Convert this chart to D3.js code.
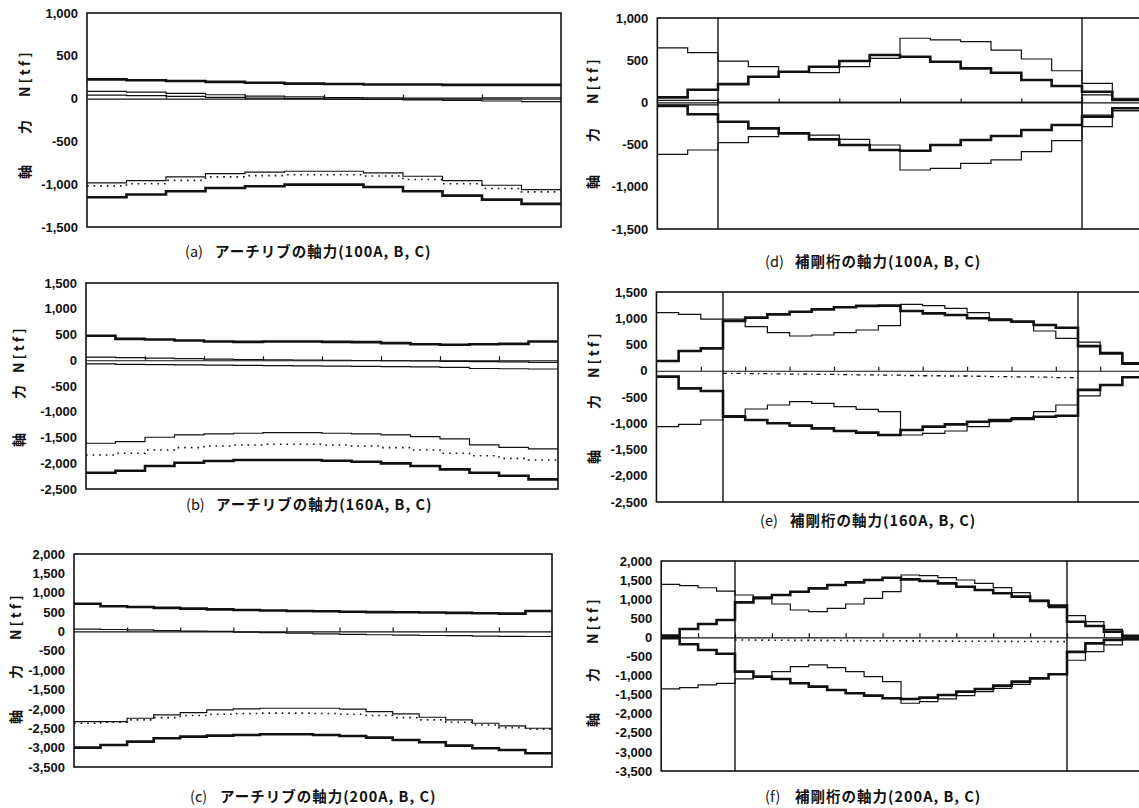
<!DOCTYPE html>
<html>
<head>
<meta charset="utf-8">
<script src="https://cdn.jsdelivr.net/npm/d3@7/dist/d3.min.js"></script>
<style>
  body { margin: 0; background: #fff; }
  text { fill: #111; }
</style>
</head>
<body>
<script>
// ARCH RIB 100 (12 segments)
const a100Top = [225, 215, 205, 195, 185, 175, 170, 165, 165, 160, 160, 160];
const a100NearA = [85, 75, 60, 45, 30, 20, 12, 8, 5, 5, 8, 10];
const a100NearB = [40, 35, 25, 15, 5, 0, -5, -10, -15, -20, -28, -35];
const a100LowThin = [-985, -958, -915, -876, -860, -849, -849, -868, -907, -958, -1012, -1063];
const a100LowDot = [-1020, -995, -955, -915, -900, -890, -890, -905, -945, -995, -1050, -1090];
const a100LowThick = [-1153, -1121, -1082, -1044, -1024, -1005, -1005, -1032, -1082, -1133, -1180, -1230];

// ARCH RIB 160 (16 segments)
const b160Top = [475, 416, 403, 384, 364, 357, 364, 364, 357, 351, 332, 312, 300, 312, 318, 364];
const b160NearA = [60, 50, 40, 30, 20, 15, 10, 5, 0, -5, -10, -15, -20, -25, -30, -40];
const b160NearB = [-70, -80, -85, -90, -95, -100, -105, -110, -115, -120, -125, -130, -140, -160, -165, -170];
const b160LowThin = [-1612, -1580, -1495, -1450, -1430, -1417, -1404, -1404, -1417, -1430, -1450, -1482, -1528, -1645, -1690, -1722];
const b160LowDot = [-1840, -1807, -1742, -1697, -1664, -1645, -1632, -1632, -1645, -1664, -1697, -1742, -1807, -1853, -1905, -1937];
const b160LowThick = [-2184, -2145, -2054, -1989, -1957, -1937, -1937, -1937, -1950, -1970, -2002, -2054, -2119, -2184, -2243, -2314];

// ARCH RIB 200 (18 segments)
const c200Top = [715, 650, 630, 610, 590, 570, 555, 540, 530, 520, 510, 500, 495, 490, 480, 470, 460, 530];
const c200Near = [60, 50, 40, 25, 10, 0, -15, -30, -45, -60, -75, -85, -95, -105, -110, -120, -125, -130];
const c200LowThin = [-2327, -2327, -2241, -2155, -2095, -2026, -2000, -1983, -1983, -1983, -2008, -2069, -2129, -2215, -2284, -2370, -2440, -2500];
const c200LowDot = [-2370, -2345, -2284, -2224, -2172, -2138, -2120, -2110, -2110, -2120, -2138, -2172, -2224, -2284, -2345, -2414, -2483, -2526];
const c200LowThick = [-3000, -2931, -2845, -2758, -2715, -2690, -2672, -2655, -2655, -2672, -2698, -2741, -2801, -2862, -2948, -3017, -3060, -3146];

// STIFFENING GIRDER 100 (2 + 12 + 2 segments)
const d100UpThin = [645, 589, 490, 423, 363, 352, 423, 521, 760, 740, 720, 620, 514, 375, 226, 49];
const d100UpThick = [60, 150, 217, 304, 363, 423, 490, 561, 541, 482, 403, 352, 265, 194, 127, 28];
const d100NearUp = [25, 25, 0, 0, 0, 0, 0, 0, 0, 0, 0, 0, 0, 0, 88, 40];
const d100NearLo = [-30, -30, 0, 0, 0, 0, 0, 0, 0, 0, 0, 0, 0, 0, -149, -98];
const d100LoThick = [-43, -141, -229, -308, -367, -438, -505, -564, -572, -505, -446, -398, -327, -268, -169, -70];
const d100LoThin = [-615, -564, -477, -406, -367, -387, -438, -505, -801, -782, -722, -682, -584, -454, -288, -98];

// STIFFENING GIRDER 160 (3 + 16 + 3 segments)
const e160UpThin = [1106, 1074, 985, 985, 839, 725, 662, 681, 725, 776, 859, 1265, 1240, 1189, 1106, 990, 925, 757, 617, 545, 350, 120];
const e160UpThick = [186, 376, 427, 947, 1011, 1074, 1125, 1170, 1210, 1235, 1240, 1138, 1093, 1062, 1000, 967, 935, 871, 820, 470, 330, 140];
const e160LoThick = [-112, -335, -386, -875, -938, -1001, -1046, -1097, -1148, -1179, -1224, -1128, -1065, -1021, -970, -938, -919, -875, -856, -365, -270, -125];
const e160LoThin = [-1065, -1021, -938, -856, -729, -652, -589, -621, -684, -735, -779, -1224, -1192, -1148, -1065, -970, -894, -779, -652, -480, -280, -110];
const e160Dot = [-50, -55, -60, -65, -70, -75, -80, -85, -90, -95, -100, -105, -110, -115, -120, -130];

// STIFFENING GIRDER 200 (4 + 18 + 4 segments)
const f200UpThin = [1390, 1353, 1300, 1213, 1110, 1005, 874, 717, 673, 761, 874, 1022, 1197, 1634, 1616, 1564, 1503, 1416, 1302, 1171, 979, 778, 570, 412, 211, 19];
const f200UpThick = [45, 220, 350, 456, 917, 1040, 1109, 1196, 1283, 1370, 1440, 1501, 1563, 1519, 1475, 1414, 1327, 1240, 1154, 1066, 953, 831, 410, 299, 150, 40];
const f200LoThick = [-25, -180, -330, -430, -897, -1028, -1089, -1203, -1290, -1377, -1464, -1525, -1595, -1613, -1578, -1508, -1421, -1351, -1264, -1159, -1071, -967, -380, -157, -68, -40];
const f200LoThin = [-1351, -1316, -1246, -1203, -1089, -1028, -897, -766, -723, -793, -897, -1028, -1159, -1726, -1683, -1613, -1525, -1421, -1334, -1229, -1089, -967, -600, -374, -199, -68];
const f200Dot = [-70, -72, -75, -78, -80, -82, -85, -88, -90, -92, -95, -98, -100, -102, -105, -108, -110, -112];

// CAPTIONS
const captionTags = ['(a)', '(b)', '(c)', '(d)', '(e)', '(f)'];
const captionTexts = [
  'アーチリブの軸力(100A, B, C)',
  'アーチリブの軸力(160A, B, C)',
  'アーチリブの軸力(200A, B, C)',
  '補剛桁の軸力(100A, B, C)',
  '補剛桁の軸力(160A, B, C)',
  '補剛桁の軸力(200A, B, C)'
];
const yDomains = [[-1500, 1000], [-2500, 1500], [-3500, 2000], [-1500, 1000], [-2500, 1500], [-3500, 2000]];

const styles = {
  thick: { w: 2.6, dash: null },
  thin: { w: 1.2, dash: null },
  dot: { w: 1.6, dash: '1.6,5' },
  dashdot: { w: 1.3, dash: '4,4,1.5,4' }
};

const panels = [
  { left: 87, right: 561, top: 13, bottom: 227, nSeg: 12, capX: 185, capY: 252,
    lab: { x: 25, n: 73, ri: 127, ji: 172 },
    series: [[a100Top, 'thick'], [a100NearA, 'thin'], [a100NearB, 'thin'],
             [a100LowThin, 'thin'], [a100LowDot, 'dot'], [a100LowThick, 'thick']] },
  { left: 86, right: 558, top: 283, bottom: 489, nSeg: 16, capX: 186, capY: 505,
    lab: { x: 19, n: 349, ri: 392, ji: 440 },
    series: [[b160Top, 'thick'], [b160NearA, 'thin'], [b160NearB, 'thin'],
             [b160LowThin, 'thin'], [b160LowDot, 'dot'], [b160LowThick, 'thick']] },
  { left: 74, right: 552, top: 554, bottom: 767, nSeg: 18, capX: 190, capY: 797,
    lab: { x: 16, n: 616, ri: 672, ji: 717 },
    series: [[c200Top, 'thick'], [c200Near, 'thin'],
             [c200LowThin, 'thin'], [c200LowDot, 'dot'], [c200LowThick, 'thick']] },
  { mainL: 718, mainR: 1082, nSide: 2, nMain: 12, top: 18, bottom: 229, capX: 765, capY: 262,
    lab: { x: 593, n: 80, ri: 135, ji: 182 },
    series: [[d100UpThin, 'thin'], [d100UpThick, 'thick'], [d100NearUp, 'thin'],
             [d100NearLo, 'thin'], [d100LoThick, 'thick'], [d100LoThin, 'thin']] },
  { mainL: 723, mainR: 1078, nSide: 3, nMain: 16, top: 292, bottom: 502, capX: 760, capY: 521,
    lab: { x: 594, n: 354, ri: 402, ji: 457 },
    series: [[e160UpThin, 'thin'], [e160UpThick, 'thick'], [e160LoThick, 'thick'],
             [e160LoThin, 'thin'], [e160Dot, 'dashdot', 3]] },
  { mainL: 735, mainR: 1067, nSide: 4, nMain: 18, top: 561, bottom: 771, capX: 765, capY: 797,
    lab: { x: 593, n: 620, ri: 675, ji: 720 },
    series: [[f200UpThin, 'thin'], [f200UpThick, 'thick'], [f200LoThick, 'thick'],
             [f200LoThin, 'thin'], [f200Dot, 'dot', 4]] }
];

const fmt = d3.formatLocale({ decimal: '.', thousands: ',', grouping: [3], currency: ['', ''], minus: '-' }).format(',');

const svg = d3.select('body').append('svg')
  .attr('width', 1139).attr('height', 808)
  .style('display', 'block');

panels.forEach((p, k) => {
  // X SCALE (segment index)
  let nTot, x0, x1;
  if (p.nMain) {
    const segW = (p.mainR - p.mainL) / p.nMain;
    nTot = p.nMain + 2 * p.nSide;
    x0 = p.mainL - p.nSide * segW;
    x1 = x0 + nTot * segW;
  } else {
    nTot = p.nSeg;
    x0 = p.left;
    x1 = p.right;
  }
  const x = d3.scaleLinear().domain([0, nTot]).range([x0, x1]);
  const y = d3.scaleLinear().domain(yDomains[k]).range([p.bottom, p.top]);

  const g = svg.append('g');

  g.append('clipPath').attr('id', 'clip' + k)
    .append('rect')
    .attr('x', x0).attr('y', p.top)
    .attr('width', x1 - x0).attr('height', p.bottom - p.top);

  // Y AXIS LABELS
  const yAxis = d3.axisLeft(y)
    .tickValues(d3.range(yDomains[k][0], yDomains[k][1] + 1, 500))
    .tickFormat(fmt)
    .tickSize(0)
    .tickPadding(9);
  g.append('g')
    .attr('transform', `translate(${x0},0)`)
    .call(yAxis)
    .call(s => s.select('.domain').remove())
    .selectAll('text')
    .attr('font-family', '"Liberation Sans", Arial, sans-serif')
    .attr('font-weight', 'bold')
    .attr('font-size', 13)
    .attr('fill', '#111');

  // ZERO LINE WITH TICKS
  const ticks = d3.range(2, nTot, 2);
  g.append('g')
    .attr('transform', `translate(0,${y(0)})`)
    .call(d3.axisTop(x).tickValues(ticks).tickSize(4).tickSizeOuter(0).tickFormat(''))
    .call(s => s.selectAll('path, line').attr('stroke', '#111').attr('stroke-width', 1.2));

  // MAIN SPAN SUPPORT LINES
  if (p.nMain) {
    [p.nSide, p.nSide + p.nMain].forEach(v => {
      g.append('line')
        .attr('x1', x(v)).attr('x2', x(v))
        .attr('y1', p.top).attr('y2', p.bottom)
        .attr('stroke', '#111').attr('stroke-width', 1.4);
    });
  }

  // SERIES
  const line = d3.line()
    .x(d => x(d[0]))
    .y(d => y(d[1]))
    .curve(d3.curveStepAfter);

  const plot = g.append('g').attr('clip-path', `url(#clip${k})`);
  p.series.forEach(([vals, st, start = 0]) => {
    const pts = vals.map((v, i) => [start + i, v]);
    pts.push([start + vals.length, vals[vals.length - 1]]);
    plot.append('path')
      .attr('d', line(pts))
      .attr('fill', 'none')
      .attr('stroke', '#111')
      .attr('stroke-width', styles[st].w)
      .attr('stroke-dasharray', styles[st].dash);
  });

  // FRAME
  g.append('rect')
    .attr('x', x0).attr('y', p.top)
    .attr('width', x1 - x0).attr('height', p.bottom - p.top)
    .attr('fill', 'none')
    .attr('stroke', '#111')
    .attr('stroke-width', 1.6);

  // AXIS TITLE (rotated)
  const jp = '"Noto Sans CJK JP", sans-serif';
  [['N[tf]', p.lab.n, 3], ['力', p.lab.ri, 0], ['軸', p.lab.ji, 0]].forEach(([t, cy, ls]) => {
    g.append('text')
      .attr('transform', `translate(${p.lab.x},${cy}) rotate(-90)`)
      .attr('text-anchor', 'middle')
      .attr('dy', '0.35em')
      .attr('font-family', jp)
      .attr('font-weight', 'bold')
      .attr('font-size', 14)
      .attr('letter-spacing', ls)
      .text(t);
  });

  // CAPTION
  const cap = g.append('text')
    .attr('y', p.capY)
    .attr('dy', '0.35em')
    .attr('font-family', jp)
    .attr('font-weight', 'bold')
    .attr('font-size', 14.5);
  cap.append('tspan').attr('x', p.capX).attr('font-weight', 'normal').text(captionTags[k]);
  cap.append('tspan').attr('x', p.capX + 30).attr('letter-spacing', 1).text(captionTexts[k]);
});
</script>
</body>
</html>
